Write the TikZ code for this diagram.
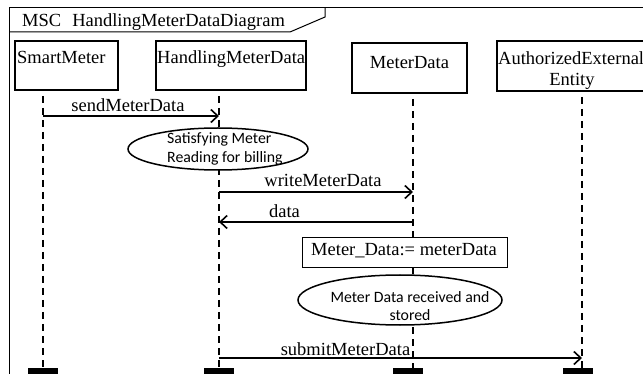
\documentclass[tikz,border=0pt]{standalone}
\usepackage{fontspec}
\setmainfont{Liberation Serif}
\newfontfamily\sansf{Carlito}
\usetikzlibrary{shapes.geometric,arrows.meta}
\begin{document}
\begin{tikzpicture}[x=1pt,y=-1pt,
  lbox/.style={draw, line width=2pt, inner sep=0pt, fill=white},
  lbl/.style={font=\fontsize{18.5}{21}\selectfont, inner sep=0pt, anchor=base},
  life/.style={line width=1.8pt, dash pattern=on 7pt off 5pt},
  endbar/.style={fill=black, inner sep=0pt, minimum width=30pt, minimum height=10pt, anchor=north},
  msg/.style={line width=2pt, -{Straight Barb[length=7pt,width=13pt,line width=1.6pt]}},
  act/.style={ellipse, draw, line width=1.5pt, fill=white, inner sep=0pt},
  notetxt/.style={font=\sansf\fontsize{15.8}{19}\selectfont, inner sep=0pt, anchor=base},
]
\clip (0,0) rectangle (643,374);
\fill[white] (0,0) rectangle (643,374);

% frame
\draw[line width=1pt] (9,390) -- (9,8) -- (660,8);
\draw[line width=1pt] (9,32) -- (290,32) -- (325,17) -- (325,8);
\node[lbl, anchor=base west] (title) at (22,27) {MSC\hspace{11pt}HandlingMeterDataDiagram};

% instance heads
\node[lbox, minimum width=103pt, minimum height=49pt] (sm) at (66.5,65.5) {};
\node[lbox, minimum width=150pt, minimum height=49pt] (hmd) at (231,65.5) {};
\node[lbox, minimum width=115pt, minimum height=50pt] (md) at (409.5,68) {};
\node[lbox, minimum width=150pt, minimum height=50pt] (aee) at (572,66) {};
\node[lbl, anchor=base west] (smT) at (17,64) {SmartMeter};
\node[lbl, anchor=base west] (hmdT) at (157,64) {HandlingMeterData};
\node[lbl] (mdT) at (409.5,69) {MeterData};
\node[lbl, anchor=base west] (aeeT1) at (498,65) {AuthorizedExternal};
\node[lbl] (aeeT2) at (572,86) {Entity};

% lifeline ends
\node[endbar] (smEnd) at (43,368) {};
\node[endbar] (hmdEnd) at (219,368) {};
\node[endbar] (mdEnd) at (408,368) {};
\node[endbar] (aeeEnd) at (577.5,368) {};

% lifelines
\coordinate (smTop) at (43,96);
\coordinate (hmdTop) at (219,96);
\coordinate (mdTop) at (413,99);
\coordinate (aeeTop) at (582,97);
\coordinate (smBot) at (43,368);
\coordinate (hmdBot) at (219,368);
\coordinate (mdBot) at (413,368);
\coordinate (aeeBot) at (582,368);
\draw[life] (smTop) -- (smBot);
\draw[life] (hmdTop) -- (hmdBot);
\draw[life] (mdTop) -- (mdBot);
\draw[life] (aeeTop) -- (aeeBot);

% actions / conditions
\node[act, minimum width=180pt, minimum height=42pt] (act1) at (218,149) {};
\node[notetxt, anchor=base west] (act1a) at (167,144) {Satisfying Meter};
\node[notetxt, anchor=base west] (act1b) at (167,163) {Reading for billing};

\node[draw, line width=1pt, fill=white, minimum width=205pt, minimum height=30pt, inner sep=0pt] (asg) at (404.5,253) {};
\node[lbl] (asgT) at (404,256) {Meter\_Data:= meterData};

\node[act, minimum width=204pt, minimum height=50pt] (act2) at (400,300) {};
\node[notetxt] (act2a) at (410,302) {Meter Data received and};
\node[notetxt] (act2b) at (410,320) {stored};

% messages
\coordinate (m1s) at (43,116);  \coordinate (m1e) at (219,116);
\coordinate (m2s) at (219,192); \coordinate (m2e) at (413,192);
\coordinate (m3s) at (413,222); \coordinate (m3e) at (219,222);
\coordinate (m4s) at (219,358); \coordinate (m4e) at (582,358);
\draw[msg] (m1s) -- (m1e);
\draw[msg] (m2s) -- (m2e);
\draw[msg] (m3s) -- (m3e);
\draw[msg] (m4s) -- (m4e);
\node[lbl] (m1l) at (128,112) {sendMeterData};
\node[lbl] (m2l) at (323,187) {writeMeterData};
\node[lbl] (m3l) at (284.5,218) {data};
\node[lbl] (m4l) at (345.5,355) {submitMeterData};
\end{tikzpicture}
\end{document}
